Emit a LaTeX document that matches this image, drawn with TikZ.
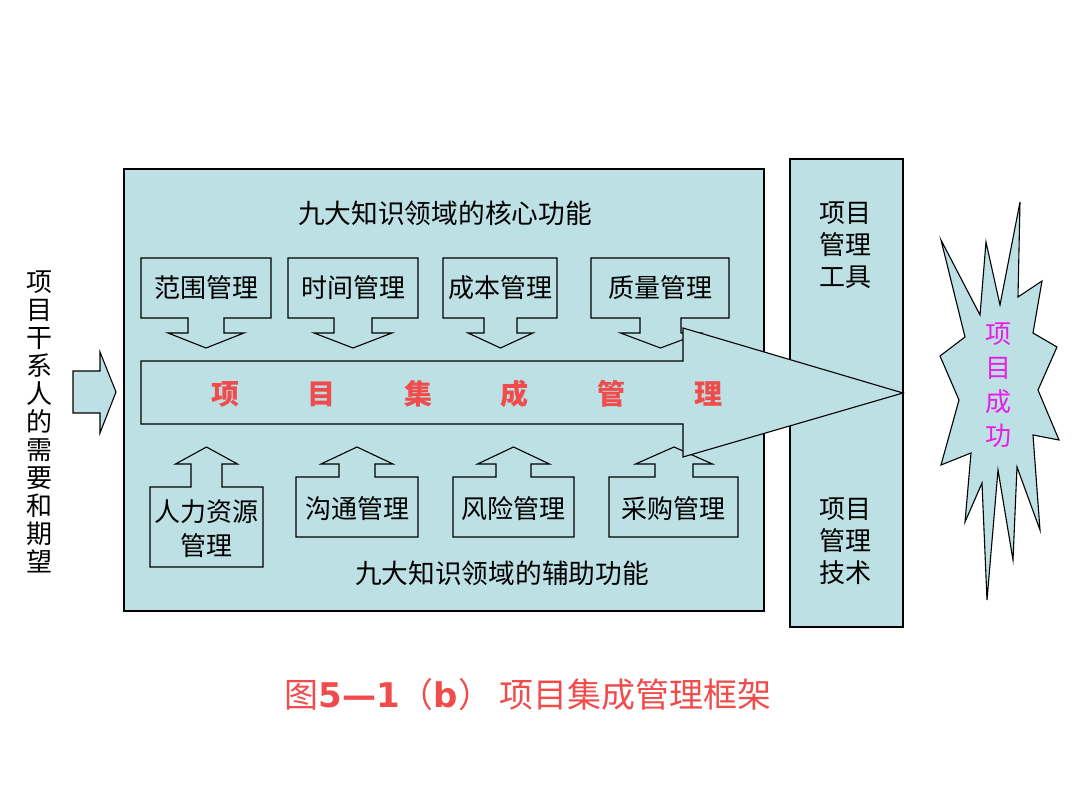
\documentclass[tikz,border=0pt]{standalone}
\usepackage{fontspec}
\usepackage{tikz}
\setmainfont{Noto Sans CJK SC}
\newfontfamily\verdana{DejaVu Sans}
\definecolor{panel}{RGB}{188,224,228}
\definecolor{redtext}{RGB}{240,76,76}
\definecolor{pinktext}{RGB}{232,30,232}
\newcommand{\drawthin}{\draw[line width=1.1pt,fill=panel]}
\tikzset{
  areatext/.style={align=center,font=\fontsize{26}{34}\selectfont,inner sep=0pt},
  bandtext/.style={text=redtext,font=\fontsize{28}{28}\selectfont\bfseries,inner sep=0pt},
}
% box with a down arrow: name, left, right, centre, half stem, half wing, text
\newcommand{\corebox}[7]{
  \drawthin (#2,258)--(#3,258)--(#3,318)--({#4+#5},318)--({#4+#5},333)--({#4+#6},333)--(#4,348)
    --({#4-#6},333)--({#4-#5},333)--({#4-#5},318)--(#2,318)--cycle;
  \node[areatext] (#1) at ({(#2+#3)/2},288) {#7};
}
% box with an up arrow: name, left, right, top, bottom, centre, half stem, half wing, text
\newcommand{\auxbox}[9]{
  \drawthin (#2,#4)--({#6-#7},#4)--({#6-#7},464)--({#6-#8},464)--(#6,447)--({#6+#8},464)
    --({#6+#7},464)--({#6+#7},#4)--(#3,#4)--(#3,#5)--(#2,#5)--cycle;
  \node[areatext] (#1) at ({(#2+#3)/2},{(#4+#5)/2+2}) {#9};
}

\begin{document}
\begin{tikzpicture}[x=1pt,y=-1pt]
\useasboundingbox (0,0) rectangle (1080,810);
\drawthin (124,169) rectangle (764,611);
    \drawthin (790,159) rectangle (903,627);
    \drawthin (73,371)--(100,371)--(100,352)--(116,392)--(100,433)--(100,413)--(73,413)--cycle;
\corebox{scope}{141}{271}{206}{18}{38}{范围管理}
\corebox{time}{288}{418}{353}{19}{39}{时间管理}
\corebox{cost}{443}{557}{500.5}{16.5}{32.5}{成本管理}
\corebox{quality}{591}{729}{660.5}{20.5}{40}{质量管理}
\auxbox{hr}{150}{263}{487}{567}{206.5}{15.5}{31}{人力资源\\管理}
\auxbox{comm}{296}{418}{477}{537}{357}{18}{36}{沟通管理}
\auxbox{risk}{453}{574}{477}{537}{513.5}{17.5}{36}{风险管理}
\auxbox{buy}{609}{738}{477}{537}{674}{19}{38.5}{采购管理}
    \drawthin (141,361)--(683,361)--(683,328)--(903,393)--(683,457)--(683,424)--(141,424)--cycle;
    \drawthin (1020,202)--(1018,297)--(1042,281)--(1033,333)--(1057,347)--(1038,390)--(1059,440)
      --(1033,435)--(1040,530)--(1017,467)--(1013,560)--(998,470)--(987,600)--(982,483)--(965,522)
      --(971,453)--(941,465)--(959,400)--(940,356)--(965,337)--(941,240)--(980,315)--(986,242)
      --(1000,305)--cycle;
\foreach \ch [count=\i] in {项,目,集,成,管,理}{
    \node[bandtext] (band\i) at ({225+96.6*(\i-1)},394) {\ch};
}
\node[areatext,font=\fontsize{26.7}{34}\selectfont] (coretitle) at (445,213) {九大知识领域的核心功能};
\node[areatext,font=\fontsize{26.7}{34}\selectfont] (auxtitle) at (502,573) {九大知识领域的辅助功能};
\node[areatext,font=\fontsize{26}{32}\selectfont] (tools) at (845,245) {项目\\管理\\工具};
\node[areatext,font=\fontsize{26}{32}\selectfont] (techs) at (845,541) {项目\\管理\\技术};
\node[areatext,font=\fontsize{26}{34}\selectfont,text=pinktext] (success) at (998,385) {项\\目\\成\\功};
\node[areatext,font=\fontsize{26}{28}\selectfont] (needs) at (40,422) {项\\目\\干\\系\\人\\的\\需\\要\\和\\期\\望};
\node[text=redtext,font=\fontsize{34}{34}\selectfont,inner sep=0pt] (caption) at (528,695)
    {图{\verdana\bfseries 5—1}（{\verdana\bfseries b}） 项目集成管理框架};
\end{tikzpicture}
\end{document}
